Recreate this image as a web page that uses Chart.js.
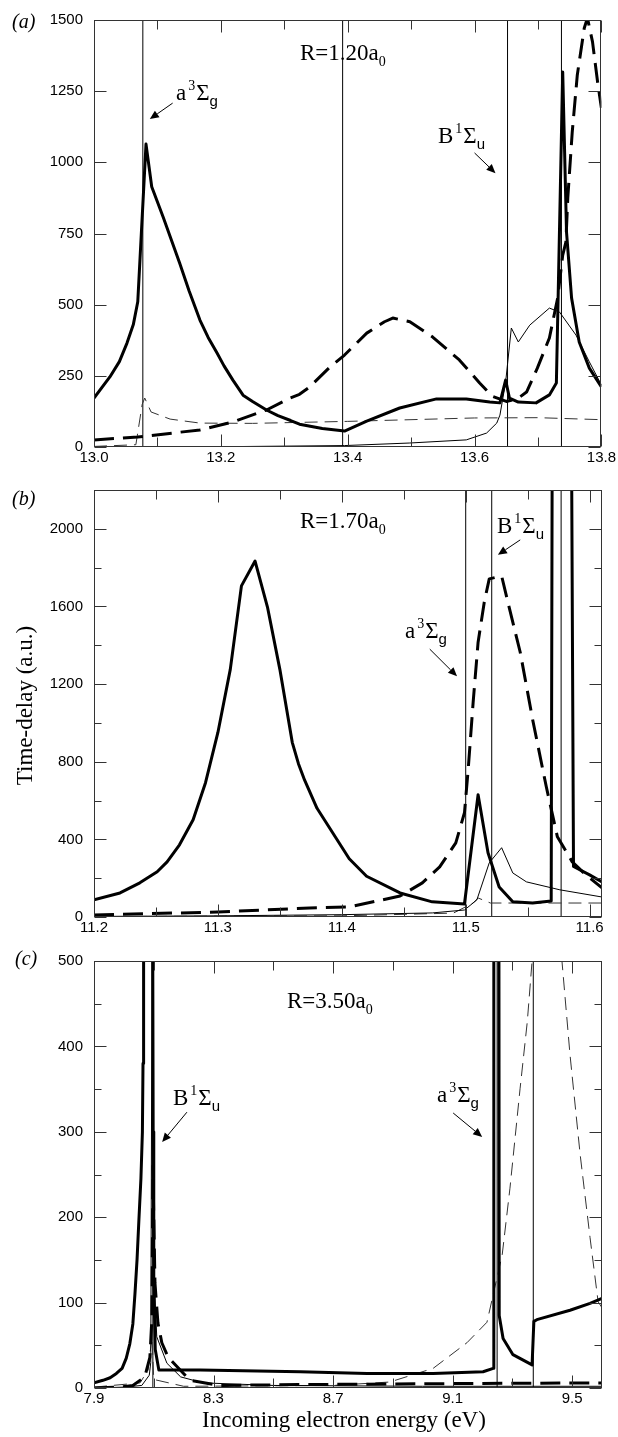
<!DOCTYPE html>
<html>
<head>
<meta charset="utf-8">
<script src="https://cdn.jsdelivr.net/npm/chart.js@4.4.0/dist/chart.umd.min.js"></script>
<style>
    body { margin: 0; background: #fff; }
    #wrap { position: relative; width: 618px; height: 1437px; overflow: hidden; }
    canvas { position: absolute; left: 0; }
    .txt { position: absolute; font-family: "Liberation Serif", "Times New Roman", serif; font-size: 23px; line-height: 23px; color: #000; white-space: nowrap; }
    .panel { font-size: 20px; line-height: 20px; font-style: italic; }
    .txt .sup { position: relative; top: -10px; font-size: 14px; margin: 0 1px 0 2px; }
    .txt .sub { position: relative; top: 6px; font-size: 14px; }
    .txt .subs { position: relative; top: 6px; font-size: 15px; font-family: "Liberation Sans", Arial, sans-serif; }
</style>
</head>
<body>
<div id="wrap">
    <canvas id="chartA" width="618" height="470" style="top:0px"></canvas>
    <canvas id="chartB" width="618" height="470" style="top:470px"></canvas>
    <canvas id="chartC" width="618" height="497" style="top:940px"></canvas>

    <div class="txt panel" style="left:12px;top:11px">(<i>a</i>)</div>
    <div class="txt panel" style="left:12px;top:488px">(<i>b</i>)</div>
    <div class="txt panel" style="left:15px;top:948px">(<i>c</i>)</div>

    <div class="txt" style="left:300px;top:41px">R=1.20a<span class="sub">0</span></div>
    <div class="txt" style="left:300px;top:509px">R=1.70a<span class="sub">0</span></div>
    <div class="txt" style="left:287px;top:989px">R=3.50a<span class="sub">0</span></div>

    <div class="txt" style="left:176px;top:81px">a<span class="sup">3</span>Σ<span class="subs">g</span></div>
    <div class="txt" style="left:438px;top:124px">B<span class="sup">1</span>Σ<span class="subs">u</span></div>
    <div class="txt" style="left:497px;top:514px">B<span class="sup">1</span>Σ<span class="subs">u</span></div>
    <div class="txt" style="left:405px;top:619px">a<span class="sup">3</span>Σ<span class="subs">g</span></div>
    <div class="txt" style="left:173px;top:1086px">B<span class="sup">1</span>Σ<span class="subs">u</span></div>
    <div class="txt" style="left:437px;top:1083px">a<span class="sup">3</span>Σ<span class="subs">g</span></div>

    <div class="txt" style="left:-76px;top:694px;width:200px;text-align:center;transform:rotate(-90deg)">Time-delay (a.u.)</div>
    <div class="txt" style="left:144px;top:1408px;width:400px;text-align:center">Incoming electron energy (eV)</div>
</div>

<script>
// ---- panel (a) R=1.20 ----
const aThickX = [13.0, 13.025, 13.04, 13.052, 13.062, 13.069, 13.082, 13.091, 13.109, 13.135, 13.15, 13.167, 13.18, 13.194, 13.205, 13.219, 13.235, 13.25, 13.272, 13.29, 13.31, 13.324, 13.36, 13.395, 13.43, 13.482, 13.54, 13.587, 13.624, 13.64, 13.649, 13.655, 13.669, 13.697, 13.718, 13.729, 13.739, 13.745, 13.753, 13.765, 13.781, 13.8];
const aThickY = [172, 246, 300, 365, 430, 510, 1064, 914, 808, 646, 548, 446, 385, 330, 285, 235, 182, 160, 130, 110, 93, 80, 65, 56, 91, 137, 169, 169, 158, 155, 235, 172, 158, 155, 183, 225, 1317, 755, 523, 369, 277, 211];
const aDashX = [13.0, 13.069, 13.167, 13.219, 13.272, 13.309, 13.324, 13.34, 13.372, 13.395, 13.43, 13.458, 13.471, 13.498, 13.534, 13.576, 13.608, 13.628, 13.65, 13.668, 13.682, 13.699, 13.718, 13.731, 13.739, 13.744, 13.747, 13.754, 13.762, 13.773, 13.778, 13.786, 13.794, 13.8];
const aDashY = [25, 35, 60, 88, 130, 172, 185, 211, 281, 323, 400, 440, 453, 440, 386, 306, 225, 178, 160, 170, 193, 277, 383, 523, 674, 720, 875, 1106, 1307, 1472, 1507, 1423, 1282, 1191];
const aThinX = [13.0, 13.2, 13.395, 13.498, 13.587, 13.619, 13.635, 13.64, 13.649, 13.658, 13.669, 13.687, 13.718, 13.734, 13.76, 13.781, 13.8];
const aThinY = [0, 1, 5, 14, 25, 49, 84, 112, 228, 418, 369, 428, 488, 474, 393, 299, 218];
const aThinDashX = [13.0, 13.066, 13.076, 13.08, 13.09, 13.12, 13.167, 13.25, 13.4, 13.6, 13.7, 13.8];
const aThinDashY = [2, 8, 150, 172, 123, 98, 84, 83, 90, 102, 103, 96];
const aVLines = [13.077, 13.392, 13.652, 13.737];
const aXMajor = [13.0, 13.2, 13.4, 13.6, 13.8];
const aXMinor = [13.1, 13.3, 13.5, 13.7];
const aYMajor = [0, 250, 500, 750, 1000, 1250, 1500];
const aYMinor = [];

// ---- panel (b) R=1.70 ----
const bThickX = [11.2, 11.221, 11.237, 11.251, 11.259, 11.269, 11.28, 11.29, 11.3, 11.31, 11.319, 11.33, 11.34, 11.35, 11.36, 11.365, 11.37, 11.38, 11.393, 11.406, 11.42, 11.447, 11.473, 11.499, 11.51, 11.518, 11.527, 11.538, 11.554, 11.569, 11.57, 11.585, 11.587, 11.6, 11.61];
const bThickY = [88, 124, 176, 233, 284, 372, 501, 692, 951, 1276, 1706, 1834, 1597, 1276, 900, 790, 705, 560, 430, 300, 210, 124, 78, 67, 630, 331, 155, 78, 72, 83, 3000, 3000, 260, 217, 181];
const bDashX = [11.2, 11.3, 11.374, 11.406, 11.447, 11.465, 11.479, 11.492, 11.499, 11.502, 11.506, 11.51, 11.515, 11.519, 11.529, 11.534, 11.544, 11.554, 11.565, 11.574, 11.586, 11.597, 11.61];
const bDashY = [10, 26, 46, 52, 108, 176, 258, 382, 537, 760, 1106, 1416, 1623, 1742, 1757, 1623, 1364, 1018, 672, 413, 284, 217, 150];
const bThinX = [11.2, 11.3, 11.4, 11.473, 11.499, 11.509, 11.519, 11.529, 11.538, 11.549, 11.576, 11.61];
const bThinY = [3, 6, 12, 21, 36, 88, 279, 357, 227, 181, 140, 103];
const bThinDashX = [11.2, 11.4, 11.49, 11.506, 11.51, 11.52, 11.61];
const bThinDashY = [2, 6, 20, 72, 98, 72, 72];
const bVLines = [11.5, 11.521, 11.577];
const bXMajor = [11.2, 11.3, 11.4, 11.5, 11.6];
const bXMinor = [11.25, 11.35, 11.45, 11.55];
const bYMajor = [0, 400, 800, 1200, 1600, 2000];
const bYMinor = [200, 600, 1000, 1400, 1800];

// ---- panel (c) R=3.50 ----
const cThickX = [7.9, 7.93, 7.954, 7.975, 7.994, 8.008, 8.02, 8.03, 8.037, 8.044, 8.05, 8.057, 8.062, 8.064, 8.066, 8.096, 8.098, 8.1, 8.105, 8.117, 8.255, 8.59, 8.814, 9.035, 9.202, 9.236, 9.238, 9.254, 9.256, 9.269, 9.302, 9.366, 9.372, 9.382, 9.493, 9.56, 9.6];
const cThickY = [6, 9, 12, 17, 23, 35, 52, 75, 110, 150, 195, 245, 300, 380, 600, 600, 300, 123, 45, 21, 21, 19, 17, 17, 19, 23, 1000, 1000, 85, 58, 39, 27, 78, 80, 91, 99, 105];
const cDashX = [7.9, 7.99, 8.03, 8.07, 8.087, 8.094, 8.097, 8.104, 8.114, 8.127, 8.148, 8.221, 8.32, 8.6, 9.0, 9.6];
const cDashY = [0, 1, 3, 13, 36, 83, 260, 123, 76, 53, 36, 9, 3, 4, 5, 6];
const cThinX = [7.9, 8.0, 8.06, 8.085, 8.09, 8.095, 8.098, 8.102, 8.11, 8.144, 8.19, 8.265, 8.5, 9.0, 9.6];
const cThinY = [0, 1, 3, 15, 30, 600, 300, 120, 60, 29, 13, 6, 3, 2, 2];
const cThinDashX = [7.9, 8.054, 8.081, 8.094, 8.1, 8.2, 8.7, 8.89, 9.035, 9.148, 9.215, 9.266, 9.292, 9.326, 9.35, 9.366, 9.415, 9.466, 9.493, 9.527, 9.56, 9.587, 9.6];
const cThinDashY = [1, 6, 21, 60, 10, 2, 3, 7, 23, 53, 77, 156, 234, 351, 429, 500, 1500, 500, 390, 273, 176, 101, 94];
const cVLines = [8.097, 9.249, 9.37];
const cXMajor = [7.9, 8.3, 8.7, 9.1, 9.5];
const cXMinor = [8.1, 8.5, 8.9, 9.3];
const cYMajor = [0, 100, 200, 300, 400, 500];
const cYMinor = [50, 150, 250, 350, 450];

// Arrows for state labels (data coordinates)
const aArrows = [[13.124, 1208, 13.088, 1152], [13.6, 1033, 13.633, 962]];
const bArrows = [[11.544, 1943, 11.526, 1866], [11.471, 1380, 11.493, 1240]];
const cArrows = [[8.211, 323, 8.128, 288], [9.102, 322, 9.199, 294]];

const THICK = { borderColor: '#000', borderWidth: 3, pointRadius: 0, tension: 0, borderJoinStyle: 'round', fill: false };
const THICK_DASH = { ...THICK, borderDash: [20, 9] };
const THIN = { borderColor: '#000', borderWidth: 1, pointRadius: 0, tension: 0, fill: false };
const THIN_DASH = { ...THIN, borderColor: '#333', borderDash: [13, 7] };
const VLINE = { borderColor: '#000', borderWidth: 1, pointRadius: 0, fill: false };

function series(xs, ys, style) {
    return { data: xs.map((x, i) => ({ x: x, y: ys[i] })), ...style };
}

// Frame + inward ticks on all four sides
const frameTicks = {
    id: 'frameTicks',
    afterDraw(chart, args, opts) {
        const { ctx, chartArea: { left, right, top, bottom }, scales: { x, y } } = chart;
        ctx.save();
        ctx.strokeStyle = '#333';
        ctx.lineWidth = 1;
        const L = Math.round(left) + 0.5, R = Math.round(right) - 0.5;
        const T = Math.round(top) + 0.5, B = Math.round(bottom) - 0.5;
        ctx.strokeRect(L, T, R - L, B - T);
        ctx.beginPath();
        const xt = (v, len) => {
            const px = Math.round(x.getPixelForValue(v)) + 0.5;
            ctx.moveTo(px, B); ctx.lineTo(px, B - len);
            ctx.moveTo(px, T); ctx.lineTo(px, T + len);
        };
        const yt = (v, len) => {
            const py = Math.round(y.getPixelForValue(v)) + 0.5;
            ctx.moveTo(L, py); ctx.lineTo(L + len, py);
            ctx.moveTo(R, py); ctx.lineTo(R - len, py);
        };
        opts.xMajor.forEach(v => xt(v, 12));
        opts.xMinor.forEach(v => xt(v, 9));
        opts.yMajor.forEach(v => yt(v, 12));
        opts.yMinor.forEach(v => yt(v, 7));
        ctx.stroke();
        ctx.restore();
    }
};

const arrows = {
    id: 'arrows',
    afterDatasetsDraw(chart, args, opts) {
        const { ctx, scales: { x, y } } = chart;
        ctx.save();
        ctx.strokeStyle = '#000';
        ctx.fillStyle = '#000';
        ctx.lineWidth = 1;
        opts.items.forEach(a => {
            const x1 = x.getPixelForValue(a[0]), y1 = y.getPixelForValue(a[1]);
            const x2 = x.getPixelForValue(a[2]), y2 = y.getPixelForValue(a[3]);
            const ang = Math.atan2(y2 - y1, x2 - x1);
            const hl = 9, hw = 4;
            ctx.beginPath();
            ctx.moveTo(x1, y1);
            ctx.lineTo(x2 - hl * Math.cos(ang), y2 - hl * Math.sin(ang));
            ctx.stroke();
            ctx.beginPath();
            ctx.moveTo(x2, y2);
            ctx.lineTo(x2 - hl * Math.cos(ang) + hw * Math.sin(ang), y2 - hl * Math.sin(ang) - hw * Math.cos(ang));
            ctx.lineTo(x2 - hl * Math.cos(ang) - hw * Math.sin(ang), y2 - hl * Math.sin(ang) + hw * Math.cos(ang));
            ctx.closePath();
            ctx.fill();
        });
        ctx.restore();
    }
};

function makePanel(id, p) {
    const datasets = [
        series(p.thick[0], p.thick[1], THICK),
        series(p.dash[0], p.dash[1], THICK_DASH),
        series(p.thin[0], p.thin[1], THIN),
        series(p.thinDash[0], p.thinDash[1], THIN_DASH)
    ];
    p.vlines.forEach(v => datasets.push(series([v, v], [p.yMin, p.yMax], VLINE)));

    const tickFont = { family: '"Liberation Sans", Arial, sans-serif', size: 15 };
    return new Chart(document.getElementById(id), {
        type: 'line',
        data: { datasets: datasets },
        options: {
            responsive: false,
            animation: false,
            events: [],
            layout: { padding: { top: p.padTop, right: 16, left: 0, bottom: p.padBottom } },
            plugins: {
                legend: { display: false },
                tooltip: { enabled: false },
                frameTicks: { xMajor: p.xMajor, xMinor: p.xMinor, yMajor: p.yMajor, yMinor: p.yMinor },
                arrows: { items: p.arrows }
            },
            scales: {
                x: {
                    type: 'linear', min: p.xMin, max: p.xMax,
                    grid: { display: false, drawTicks: false }, border: { display: false },
                    ticks: { font: tickFont, color: '#000', padding: 2, maxRotation: 0, autoSkip: false,
                             callback: v => Number(v).toFixed(1) },
                    afterBuildTicks: s => { s.ticks = p.xMajor.map(v => ({ value: v })); },
                    afterFit: s => { s.height = 23; }
                },
                y: {
                    type: 'linear', min: p.yMin, max: p.yMax,
                    grid: { display: false, drawTicks: false }, border: { display: false },
                    ticks: { font: tickFont, color: '#000', padding: 11, callback: v => String(v) },
                    afterBuildTicks: s => { s.ticks = p.yMajor.map(v => ({ value: v })); },
                    afterFit: s => { s.width = 94; }
                }
            }
        },
        plugins: [frameTicks, arrows]
    });
}

makePanel('chartA', {
    thick: [aThickX, aThickY], dash: [aDashX, aDashY], thin: [aThinX, aThinY], thinDash: [aThinDashX, aThinDashY],
    vlines: aVLines, xMin: 13.0, xMax: 13.8, yMin: 0, yMax: 1500,
    xMajor: aXMajor, xMinor: aXMinor, yMajor: aYMajor, yMinor: aYMinor,
    arrows: aArrows, padTop: 20, padBottom: 0
});
makePanel('chartB', {
    thick: [bThickX, bThickY], dash: [bDashX, bDashY], thin: [bThinX, bThinY], thinDash: [bThinDashX, bThinDashY],
    vlines: bVLines, xMin: 11.2, xMax: 11.61, yMin: 0, yMax: 2200,
    xMajor: bXMajor, xMinor: bXMinor, yMajor: bYMajor, yMinor: bYMinor,
    arrows: bArrows, padTop: 20, padBottom: 0
});
makePanel('chartC', {
    thick: [cThickX, cThickY], dash: [cDashX, cDashY], thin: [cThinX, cThinY], thinDash: [cThinDashX, cThinDashY],
    vlines: cVLines, xMin: 7.9, xMax: 9.6, yMin: 0, yMax: 500,
    xMajor: cXMajor, xMinor: cXMinor, yMajor: cYMajor, yMinor: cYMinor,
    arrows: cArrows, padTop: 21, padBottom: 26
});
</script>
</body>
</html>
